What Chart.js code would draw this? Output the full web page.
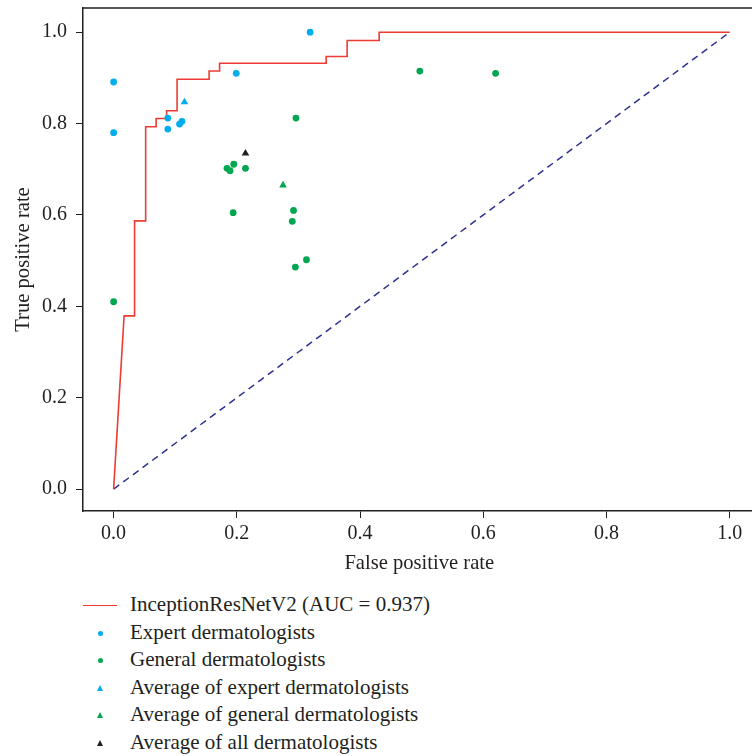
<!DOCTYPE html>
<html>
<head>
<meta charset="utf-8">
<script src="https://cdn.jsdelivr.net/npm/chart.js@4"></script>
<style>
  body { margin: 0; width: 752px; height: 756px; overflow: hidden; background: #fff; font-family: "Liberation Serif", serif; }
  #wrap { position: absolute; left: 0; top: 0; width: 760px; height: 580px; }
  #legend { position: absolute; left: 0; top: 0; color: #231f20; font-size: 21px; }
  .row { position: absolute; left: 130px; white-space: nowrap; line-height: 21px; }
  .mk { position: absolute; }
</style>
</head>
<body>
<div id="wrap"><canvas id="myChart" width="760" height="580"></canvas></div>
<div id="legend"></div>
<script>
// ROC curve vertices (false positive rate / true positive rate)
const rocFpr = [0, 0.017, 0.034, 0.034, 0.052, 0.052, 0.069, 0.069, 0.086, 0.086, 0.103, 0.103,
                0.155, 0.155, 0.172, 0.172, 0.345, 0.345, 0.379, 0.379, 0.431, 0.431, 1.0];
const rocTpr = [0, 0.379, 0.379, 0.587, 0.587, 0.793, 0.793, 0.811, 0.811, 0.828, 0.828, 0.897,
                0.897, 0.915, 0.915, 0.932, 0.932, 0.947, 0.947, 0.982, 0.982, 1.0, 1.0];

const expertFpr = [0, 0, 0.319, 0.199, 0.088, 0.088, 0.107, 0.111];
const expertTpr = [0.891, 0.780, 1.0, 0.910, 0.812, 0.788, 0.799, 0.805];

const generalFpr = [0.0, 0.195, 0.184, 0.189, 0.214, 0.194, 0.292, 0.290, 0.313, 0.295, 0.296, 0.497, 0.620];
const generalTpr = [0.41, 0.711, 0.702, 0.697, 0.702, 0.605, 0.610, 0.586, 0.502, 0.486, 0.812, 0.915, 0.910];

const avgExpert = [0.115, 0.847];
const avgGeneral = [0.275, 0.665];
const avgAll = [0.214, 0.735];

const chanceLine = [0, 1];
const tickValues = [0, 0.2, 0.4, 0.6, 0.8, 1.0];

const labels = [
  'InceptionResNetV2 (AUC = 0.937)',
  'Expert dermatologists',
  'General dermatologists',
  'Average of expert dermatologists',
  'Average of general dermatologists',
  'Average of all dermatologists'
];

const RED = '#ee3b33';
const BLUE = '#00aeef';
const GREEN = '#00a651';
const NAVY = '#2e3192';
const INK = '#231f20';

const toPts = (xs, ys) => xs.map((x, i) => ({ x: x, y: ys[i] }));

const boxPlugin = {
  id: 'box',
  afterDraw(chart) {
    const { ctx, chartArea: a } = chart;
    ctx.save();
    ctx.strokeStyle = INK;
    ctx.lineWidth = 1.5;
    ctx.beginPath();
    ctx.moveTo(a.left, a.top);
    ctx.lineTo(a.right, a.top);
    ctx.lineTo(a.right, a.bottom);
    ctx.stroke();
    ctx.restore();
  }
};

const font = { family: '"Liberation Serif", serif', size: 20 };
const titleFont = { family: '"Liberation Serif", serif', size: 20.6 };

new Chart(document.querySelector('#myChart'), {
  type: 'scatter',
  data: {
    datasets: [
      { label: 'chance', data: toPts(chanceLine, chanceLine), showLine: true, borderColor: NAVY,
        borderWidth: 1.5, borderDash: [7, 5], pointRadius: 0, order: 3 },
      { label: labels[0], data: toPts(rocFpr, rocTpr), showLine: true, borderColor: RED,
        borderWidth: 1.6, pointRadius: 0, tension: 0, order: 2 },
      { label: labels[1], data: toPts(expertFpr, expertTpr), backgroundColor: BLUE, borderWidth: 0,
        pointRadius: 3.4, order: 1 },
      { label: labels[2], data: toPts(generalFpr, generalTpr), backgroundColor: GREEN, borderWidth: 0,
        pointRadius: 3.4, order: 1 },
      { label: labels[3], data: [{ x: avgExpert[0], y: avgExpert[1] }], pointStyle: 'triangle',
        backgroundColor: BLUE, borderWidth: 0, pointRadius: 4.4, order: 0 },
      { label: labels[4], data: [{ x: avgGeneral[0], y: avgGeneral[1] }], pointStyle: 'triangle',
        backgroundColor: GREEN, borderWidth: 0, pointRadius: 4.4, order: 0 },
      { label: labels[5], data: [{ x: avgAll[0], y: avgAll[1] }], pointStyle: 'triangle',
        backgroundColor: INK, borderWidth: 0, pointRadius: 4.4, order: 0 }
    ]
  },
  options: {
    responsive: false,
    animation: false,
    devicePixelRatio: 1,
    layout: { padding: { top: 8, right: 0, bottom: 0, left: 0 } },
    plugins: { legend: { display: false }, tooltip: { enabled: false } },
    scales: {
      x: {
        type: 'linear', min: -0.0497, max: 1.042,
        afterBuildTicks: (s) => { s.ticks = tickValues.map(v => ({ value: v })); },
        afterFit: (s) => { s.height = 69; s.paddingLeft = 0; s.paddingRight = 0; },
        ticks: { color: INK, font: font, padding: 4, maxRotation: 0,
                 callback: (v) => Number(v).toFixed(1) },
        grid: { drawOnChartArea: false, drawTicks: true, tickLength: 7, color: INK, lineWidth: 1 },
        border: { display: true, color: INK, width: 1.5 },
        title: { display: true, text: 'False positive rate', color: INK, font: titleFont, padding: { top: 2 } }
      },
      y: {
        type: 'linear', min: -0.048, max: 1.053,
        afterBuildTicks: (s) => { s.ticks = tickValues.map(v => ({ value: v })); },
        afterFit: (s) => { s.width = 83; s.paddingTop = 0; s.paddingBottom = 0; },
        ticks: { color: INK, font: font, padding: 9,
                 callback: (v) => Number(v).toFixed(1) },
        grid: { drawOnChartArea: false, drawTicks: true, tickLength: 7, color: INK, lineWidth: 1 },
        border: { display: true, color: INK, width: 1.5 },
        title: { display: true, text: 'True positive rate', color: INK, font: titleFont, padding: { bottom: 0, top: 11 } }
      }
    }
  },
  plugins: [boxPlugin]
});

// legend below the plot
const legend = document.querySelector('#legend');
const rowY = [605, 633, 660, 688, 715, 743];
const markers = [
  { kind: 'line', color: RED },
  { kind: 'dot', color: BLUE },
  { kind: 'dot', color: GREEN },
  { kind: 'tri', color: BLUE },
  { kind: 'tri', color: GREEN },
  { kind: 'tri', color: INK }
];
labels.forEach((txt, i) => {
  const y = rowY[i];
  const row = document.createElement('div');
  row.className = 'row';
  row.style.top = (y - 11) + 'px';
  row.textContent = txt;
  legend.appendChild(row);
  const m = document.createElement('div');
  m.className = 'mk';
  const k = markers[i];
  if (k.kind === 'line') {
    Object.assign(m.style, { left: '83px', top: (y - 0.5) + 'px', width: '34px', height: '1.3px', background: k.color });
  } else if (k.kind === 'dot') {
    Object.assign(m.style, { left: '97.5px', top: (y - 2.5) + 'px', width: '5.5px', height: '5.5px', borderRadius: '50%', background: k.color });
  } else {
    Object.assign(m.style, { left: '97px', top: (y - 3) + 'px', width: 0, height: 0,
      borderLeft: '3px solid transparent', borderRight: '3px solid transparent', borderBottom: '6px solid ' + k.color });
  }
  legend.appendChild(m);
});
</script>
</body>
</html>
